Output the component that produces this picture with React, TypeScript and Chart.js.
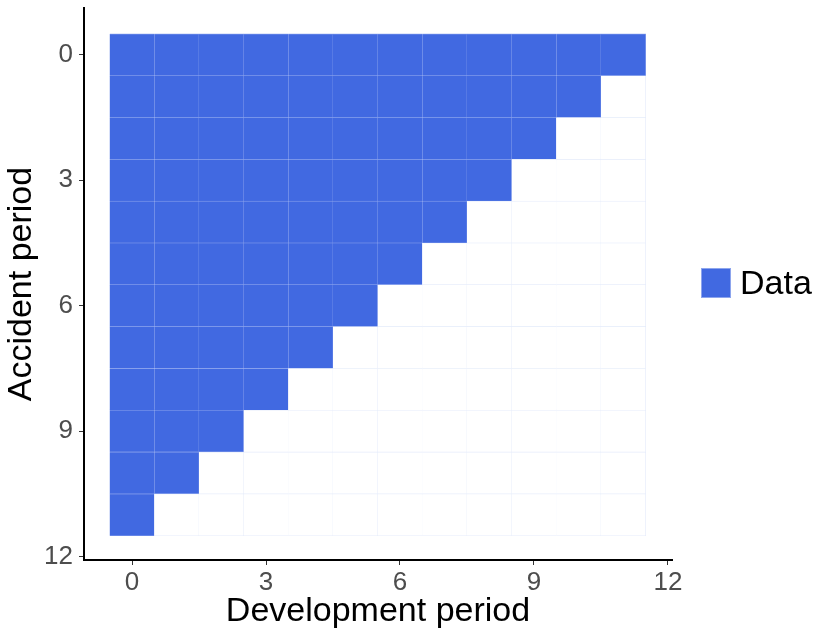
import { useEffect, useRef } from "react";
import { Chart, registerables } from "chart.js";

Chart.register(...registerables);

const accidentPeriods = [0, 1, 2, 3, 4, 5, 6, 7, 8, 9, 10, 11];
const developmentPeriods = [0, 1, 2, 3, 4, 5, 6, 7, 8, 9, 10, 11];
// number of observed development periods for each accident period (row)
const observedCounts = [12, 11, 10, 9, 8, 7, 6, 5, 4, 3, 2, 1];
const xTickValues = [0, 3, 6, 9, 12];
const yTickValues = [0, 3, 6, 9, 12];
const seriesLabel = "Data";
const xTitle = "Development period";
const yTitle = "Accident period";

const FONT = "'Liberation Sans', Arial, Helvetica, sans-serif";
const FILL = "#4169e1";
const FILL_BORDER = "#8da5ed";
const EMPTY_BORDER = "#e4ebfa";

export default function App() {
  const ref = useRef<HTMLCanvasElement>(null);

  useEffect(() => {
    document.body.style.margin = "0";
    document.body.style.overflow = "hidden";
    const observed: any[] = [];
    const empty: any[] = [];
    accidentPeriods.forEach((a, i) => {
      developmentPeriods.forEach((d, j) => {
        const cell = { y: a, x: [d - 0.5, d + 0.5] };
        if (j < observedCounts[i]) observed.push(cell);
        else empty.push(cell);
      });
    });

    const legendPlugin = {
      id: "customLegend",
      afterDraw(chart: any) {
        const ctx = chart.ctx;
        ctx.save();
        ctx.fillStyle = FILL;
        ctx.fillRect(701, 268, 30, 30);
        ctx.strokeStyle = FILL_BORDER;
        ctx.lineWidth = 1;
        ctx.strokeRect(701.5, 268.5, 29, 29);
        ctx.fillStyle = "#000000";
        ctx.font = `34px ${FONT}`;
        ctx.textBaseline = "middle";
        ctx.textAlign = "left";
        ctx.fillText(seriesLabel, 740, 285);
        ctx.restore();
      },
    };

    const chart = new Chart(ref.current as HTMLCanvasElement, {
      type: "bar",
      data: {
        datasets: [
          {
            label: "empty",
            data: empty as any,
            backgroundColor: "#ffffff",
            borderColor: EMPTY_BORDER,
            borderWidth: 0.6,
          },
          {
            label: seriesLabel,
            data: observed as any,
            backgroundColor: FILL,
            borderColor: FILL_BORDER,
            borderWidth: 0.6,
          },
        ],
      },
      options: {
        indexAxis: "y",
        responsive: false,
        animation: false,
        events: [],
        datasets: {
          bar: { grouped: false, categoryPercentage: 1, barPercentage: 1 },
        } as any,
        layout: { padding: { top: 8, right: 158, left: 0, bottom: 0 } },
        plugins: {
          legend: { display: false },
          tooltip: { enabled: false },
        },
        scales: {
          x: {
            type: "linear",
            position: "bottom",
            offset: false,
            min: -1.075,
            max: 12.09,
            afterBuildTicks: (s: any) => {
              s.ticks = xTickValues.map((v) => ({ value: v }));
            },
            afterFit: (s: any) => {
              s.height = 81;
              s.paddingLeft = 0;
              s.paddingRight = 0;
            },
            grid: {
              display: true,
              offset: false,
              drawOnChartArea: false,
              drawTicks: true,
              tickLength: 5,
              tickColor: "#333333",
              tickWidth: 1,
            },
            border: { display: true, color: "#000000", width: 2 },
            ticks: {
              color: "#4d4d4d",
              font: { family: FONT, size: 26 },
              padding: 2,
              maxRotation: 0,
              autoSkip: false,
              callback: (v: any) => String(v),
            },
            title: {
              display: true,
              text: xTitle,
              color: "#000000",
              font: { family: FONT, size: 34 },
              padding: { top: 0, bottom: 9 },
            },
          },
          y: {
            type: "linear",
            reverse: true,
            offset: false,
            min: -1.12,
            max: 12.08,
            afterBuildTicks: (s: any) => {
              s.ticks = yTickValues.map((v) => ({ value: v }));
            },
            afterFit: (s: any) => {
              s.width = 84;
              s.paddingTop = 0;
              s.paddingBottom = 0;
            },
            grid: {
              display: true,
              offset: false,
              drawOnChartArea: false,
              drawTicks: true,
              tickLength: 5,
              tickColor: "#333333",
              tickWidth: 1,
            },
            border: { display: true, color: "#000000", width: 2 },
            ticks: {
              color: "#4d4d4d",
              font: { family: FONT, size: 26 },
              padding: 6,
              autoSkip: false,
              callback: (v: any) => String(v),
            },
            title: {
              display: true,
              text: yTitle,
              color: "#000000",
              font: { family: FONT, size: 34 },
              padding: { top: 1, bottom: 0 },
            },
          },
        },
      },
      plugins: [legendPlugin],
    });
    return () => chart.destroy();
  }, []);

  return (
    <canvas
      ref={ref}
      width={830}
      height={641}
      style={{ display: "block", width: "830px", height: "641px" }}
    />
  );
}
